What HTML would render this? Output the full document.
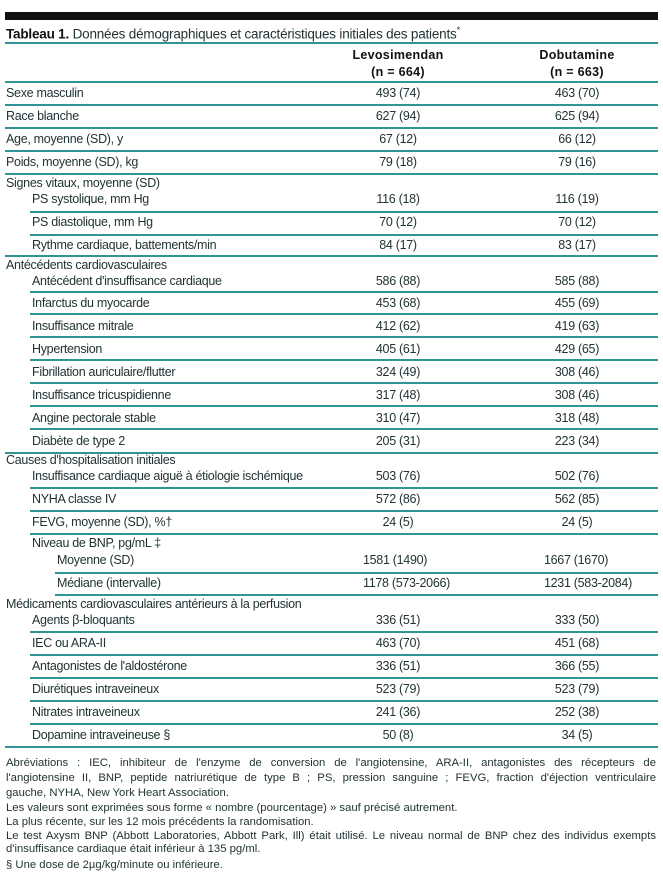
<!DOCTYPE html>
<html><head><meta charset="utf-8"><style>
body{margin:0;background:#fff;}
#c{position:relative;width:663px;height:882px;overflow:hidden;font-family:"Liberation Sans",sans-serif;color:#233;font-size:12.5px;letter-spacing:-0.3px;}
.t{position:absolute;white-space:nowrap;line-height:14px;}
.l{position:absolute;height:1.5px;background:#2f9495;right:5px;}
.v1{position:absolute;width:140px;left:328px;text-align:center;white-space:nowrap;line-height:14px;}
.v2{position:absolute;width:140px;left:507px;text-align:center;white-space:nowrap;line-height:14px;}
.f{position:absolute;left:6px;width:650px;font-size:11.3px;line-height:14px;white-space:nowrap;letter-spacing:0px;}
.j{text-align:justify;text-align-last:justify;}
</style></head><body><div id="c">
<div style="position:absolute;left:5px;right:5px;top:12px;height:8px;background:#111"></div>
<div class="t" style="left:6px;top:21px;font-size:13.5px;line-height:18px;letter-spacing:-0.2px"><b style="color:#111">Tableau 1.</b> Données démographiques et caractéristiques initiales des patients<sup style="font-size:9px">*</sup></div>
<div class="l" style="left:5px;top:42px"></div>
<div class="v1" style="top:47px;font-weight:bold;color:#111;letter-spacing:0.3px;line-height:17px">Levosimendan<br>(n = 664)</div>
<div class="v2" style="top:47px;font-weight:bold;color:#111;letter-spacing:0.3px;line-height:17px">Dobutamine<br>(n = 663)</div>
<div class="l" style="left:5px;top:81px"></div>
<div id="rows"></div>
<div class="f j" style="top:756px">Abréviations : IEC, inhibiteur de l'enzyme de conversion de l'angiotensine, ARA-II, antagonistes des récepteurs de</div>
<div class="f j" style="top:771px">l'angiotensine II, BNP, peptide natriurétique de type B ; PS, pression sanguine ; FEVG, fraction d'éjection ventriculaire</div>
<div class="f" style="top:786px">gauche, NYHA, New York Heart Association.</div>
<div class="f" style="top:801px">Les valeurs sont exprimées sous forme « nombre (pourcentage) » sauf précisé autrement.</div>
<div class="f" style="top:815px">La plus récente, sur les 12 mois précédents la randomisation.</div>
<div class="f j" style="top:829px">Le test Axysm BNP (Abbott Laboratories, Abbott Park, Ill) était utilisé. Le niveau normal de BNP chez des individus exempts</div>
<div class="f" style="top:842px">d'insuffisance cardiaque était inférieur à 135 pg/ml.</div>
<div class="f" style="top:858px">§ Une dose de 2µg/kg/minute ou inférieure.</div>
</div>
<script>
var R=[
[0,"Sexe masculin","493 (74)","463 (70)",93,104,5],
[0,"Race blanche","627 (94)","625 (94)",116,127,5],
[0,"Age, moyenne (SD), y","67 (12)","66 (12)",139,150,5],
[0,"Poids, moyenne (SD), kg","79 (18)","79 (16)",162,173,5],
[0,"Signes vitaux, moyenne (SD)","","",183,0,0],
[1,"PS systolique, mm Hg","116 (18)","116 (19)",199,211,30],
[1,"PS diastolique, mm Hg","70 (12)","70 (12)",222,234,30],
[1,"Rythme cardiaque, battements/min","84 (17)","83 (17)",245,255,5],
[0,"Antécédents cardiovasculaires","","",265,0,0],
[1,"Antécédent d'insuffisance cardiaque","586 (88)","585 (88)",281,291,30],
[1,"Infarctus du myocarde","453 (68)","455 (69)",303,313,30],
[1,"Insuffisance mitrale","412 (62)","419 (63)",326,336,30],
[1,"Hypertension","405 (61)","429 (65)",349,359,30],
[1,"Fibrillation auriculaire/flutter","324 (49)","308 (46)",372,382,30],
[1,"Insuffisance tricuspidienne","317 (48)","308 (46)",395,405,30],
[1,"Angine pectorale stable","310 (47)","318 (48)",418,428,30],
[1,"Diabète de type 2","205 (31)","223 (34)",441,452,5],
[0,"Causes d'hospitalisation initiales","","",460,0,0],
[1,"Insuffisance cardiaque aiguë à étiologie ischémique","503 (76)","502 (76)",476,487,30],
[1,"NYHA classe IV","572 (86)","562 (85)",499,510,30],
[1,"FEVG, moyenne (SD), %†","24 (5)","24 (5)",522,533,30],
[1,"Niveau de BNP, pg/mL ‡","","",543,0,0],
[3,"Moyenne (SD)","1581 (1490)","1667 (1670)",560,572,55],
[3,"Médiane (intervalle)","1178 (573-2066)","1231 (583-2084)",583,594,55],
[0,"Médicaments cardiovasculaires antérieurs à la perfusion","","",604,0,0],
[1,"Agents β-bloquants","336 (51)","333 (50)",620,631,30],
[1,"IEC ou ARA-II","463 (70)","451 (68)",643,654,30],
[1,"Antagonistes de l'aldostérone","336 (51)","366 (55)",666,677,30],
[1,"Diurétiques intraveineux","523 (79)","523 (79)",689,700,30],
[1,"Nitrates intraveineux","241 (36)","252 (38)",712,723,30],
[1,"Dopamine intraveineuse §","50 (8)","34 (5)",735,746,5]];
var h="";R.forEach(function(r){var x=[6,32,57,57][r[0]];
h+='<div class="t" style="left:'+x+'px;top:'+(r[4]-7)+'px">'+r[1]+'</div>';
if(r[2]){ if(r[0]==3) h+='<div class="t" style="left:363px;top:'+(r[4]-7)+'px">'+r[2]+'</div><div class="t" style="left:544px;top:'+(r[4]-7)+'px">'+r[3]+'</div>';
 else h+='<div class="v1" style="top:'+(r[4]-7)+'px">'+r[2]+'</div><div class="v2" style="top:'+(r[4]-7)+'px">'+r[3]+'</div>';}
if(r[5])h+='<div class="l" style="left:'+r[6]+'px;top:'+r[5]+'px"></div>';});
document.getElementById("rows").outerHTML=h;
</script>
</body></html>
